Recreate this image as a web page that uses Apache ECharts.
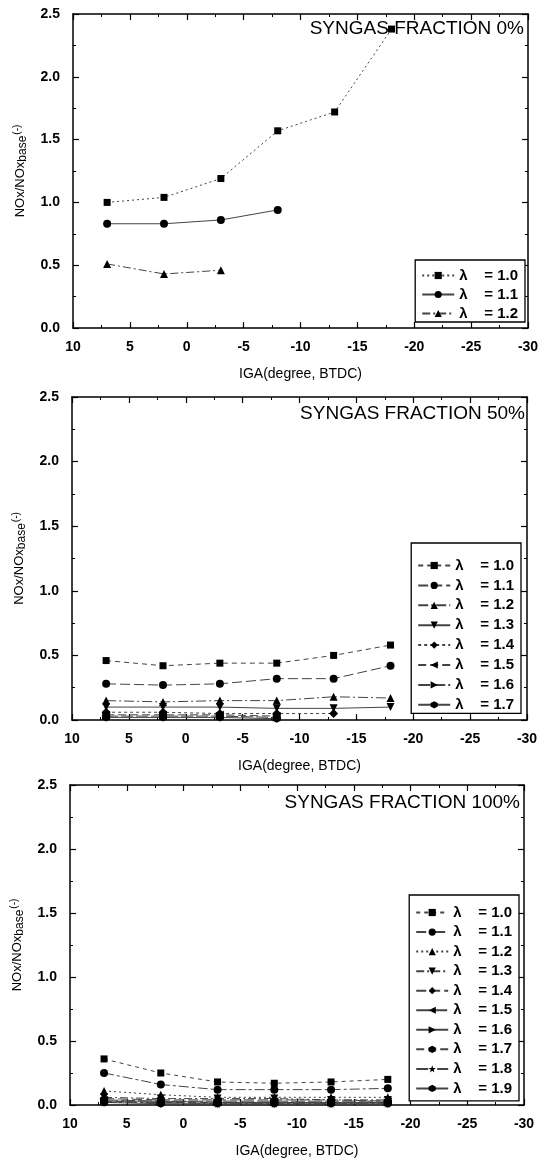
<!DOCTYPE html>
<html>
<head>
<meta charset="utf-8">
<script src="https://cdn.jsdelivr.net/npm/echarts@6/dist/echarts.min.js"></script>
<style>
html,body{margin:0;padding:0;background:#fff;}
#c{width:552px;height:1161px;}
</style>
</head>
<body>
<div id="c"></div>
<script>
// ---- data ----
const igaDeg = [7, 2, -3, -8, -13, -18];
const panelTitles = ['SYNGAS FRACTION 0%', 'SYNGAS FRACTION 50%', 'SYNGAS FRACTION 100%'];

const lambdas0 = ['1.0', '1.1', '1.2'];
const f0_l10 = [1.00, 1.04, 1.19, 1.57, 1.72, 2.38];
const f0_l11 = [0.83, 0.83, 0.86, 0.94, null, null];
const f0_l12 = [0.51, 0.43, 0.46, null, null, null];

const lambdas50 = ['1.0', '1.1', '1.2', '1.3', '1.4', '1.5', '1.6', '1.7'];
const f50_l10 = [0.46, 0.42, 0.44, 0.44, 0.50, 0.58];
const f50_l11 = [0.28, 0.27, 0.28, 0.32, 0.32, 0.42];
const f50_l12 = [0.15, 0.14, 0.15, 0.15, 0.18, 0.17];
const f50_l13 = [0.10, 0.10, 0.10, 0.09, 0.09, 0.10];
const f50_l14 = [0.06, 0.06, 0.05, 0.05, 0.05, null];
const f50_l15 = [0.04, 0.04, 0.04, 0.03, null, null];
const f50_l16 = [0.03, 0.03, 0.03, 0.02, null, null];
const f50_l17 = [0.02, 0.02, 0.02, 0.01, null, null];

const lambdas100 = ['1.0', '1.1', '1.2', '1.3', '1.4', '1.5', '1.6', '1.7', '1.8', '1.9'];
const f100_l10 = [0.36, 0.25, 0.18, 0.17, 0.18, 0.20];
const f100_l11 = [0.25, 0.16, 0.12, 0.12, 0.12, 0.13];
const f100_l12 = [0.11, 0.08, 0.06, 0.06, 0.06, 0.06];
const f100_l13 = [0.06, 0.05, 0.05, 0.05, 0.04, 0.04];
const f100_l14 = [0.05, 0.04, 0.04, 0.04, 0.04, 0.03];
const f100_l15 = [0.04, 0.03, 0.03, 0.03, 0.03, 0.03];
const f100_l16 = [0.03, 0.03, 0.02, 0.02, 0.02, 0.02];
const f100_l17 = [0.03, 0.02, 0.02, 0.02, 0.02, 0.02];
const f100_l18 = [0.02, 0.02, 0.01, 0.01, 0.01, 0.01];
const f100_l19 = [0.02, 0.01, 0.01, 0.01, 0.01, 0.01];

const panelLambdas = [lambdas0, lambdas50, lambdas100];
const panelValues = [
  [f0_l10, f0_l11, f0_l12],
  [f50_l10, f50_l11, f50_l12, f50_l13, f50_l14, f50_l15, f50_l16, f50_l17],
  [f100_l10, f100_l11, f100_l12, f100_l13, f100_l14, f100_l15, f100_l16, f100_l17, f100_l18, f100_l19]
];

// ---- styles ----
const FONT = 'Liberation Sans, Arial, sans-serif';
const HEX = 'path://M0,-10 L8.66,-5 L8.66,5 L0,10 L-8.66,5 L-8.66,-5 Z';
const STAR = 'path://M0,-10 L2.35,-3.24 L9.51,-3.09 L3.8,1.24 L5.88,8.09 L0,4 L-5.88,8.09 L-3.8,1.24 L-9.51,-3.09 L-2.35,-3.24 Z';
const markerByLambda = {
  '1.0': ['rect', 0, 7], '1.1': ['circle', 0, 8], '1.2': ['triangle', 0, 8],
  '1.3': ['triangle', 180, 8], '1.4': ['diamond', 0, 9], '1.5': ['triangle', 90, 8],
  '1.6': ['triangle', -90, 8], '1.7': [HEX, 0, 8], '1.8': [STAR, 0, 8], '1.9': [HEX, 0, 8]
};
const dashSets = [
  [[2, 3], 'solid', [8, 3, 2, 3]],
  [[5, 4], [10, 4], [10, 3, 2, 3], 'solid', [3, 3], [8, 4], [12, 3], 'solid'],
  [[4, 4], [10, 3, 3, 3], [2, 3], [8, 3, 2, 3], [10, 4], [14, 3], 'solid', [8, 4], [12, 3, 3, 3], 'solid']
];

const grids = [
  { left: 73, top: 14, width: 455, height: 314 },
  { left: 72, top: 397, width: 455, height: 323 },
  { left: 70, top: 785, width: 454, height: 320 }
];
const legendPos = [
  { right: 27, top: 260, padding: [8, 7, 1, 6], itemGap: 4 },
  { right: 31, top: 543, padding: [15, 7, 1, 6], itemGap: 4.9 },
  { right: 33, top: 895, padding: [10, 7, 5, 6], itemGap: 4.55 }
];
const titlePos = [{ right: 28, top: 19 }, { right: 27, top: 404 }, { right: 32, top: 793 }];

const xAxes = [], yAxes = [], series = [], legends = [], titles = [];
grids.forEach((g, i) => {
  const base = {
    gridIndex: i, type: 'value', min: -30, max: 10, interval: 5, inverse: true,
    axisLine: { onZero: false, lineStyle: { color: '#000', width: 1.5 } },
    axisTick: { inside: true, length: 6, lineStyle: { color: '#000', width: 1.2 } },
    minorTick: { show: true, splitNumber: 2, length: 3, lineStyle: { color: '#000', width: 1 } },
    splitLine: { show: false }
  };
  xAxes.push(Object.assign({}, base, {
    position: 'bottom',
    axisLabel: { margin: 12, color: '#000', fontSize: 14, fontWeight: 'bold', fontFamily: FONT },
    name: 'IGA(degree, BTDC)', nameLocation: 'middle', nameGap: 39,
    nameTextStyle: { color: '#000', fontSize: 14, fontFamily: FONT }
  }));
  xAxes.push(Object.assign({}, base, { position: 'top', axisLabel: { show: false } }));
  const ybase = {
    gridIndex: i, type: 'value', min: 0, max: 2.5, interval: 0.5,
    axisLine: { show: true, onZero: false, lineStyle: { color: '#000', width: 1.5 } },
    axisTick: { show: true, inside: true, length: 6, lineStyle: { color: '#000', width: 1.2 } },
    minorTick: { show: true, splitNumber: 2, length: 3, lineStyle: { color: '#000', width: 1 } },
    splitLine: { show: false }
  };
  yAxes.push(Object.assign({}, ybase, {
    position: 'left',
    axisLabel: { margin: 13, color: '#000', fontSize: 14, fontWeight: 'bold', fontFamily: FONT,
      formatter: v => v.toFixed(1) },
    name: '{a|NOx/NOx}{b|base}{c|(-)}', nameLocation: 'middle', nameGap: 40,
    nameTextStyle: {
      color: '#000', fontFamily: FONT,
      rich: {
        a: { fontSize: 13, fontFamily: FONT, color: '#000', padding: [0, 0, 4, 0] },
        b: { fontSize: 12, fontFamily: FONT, color: '#000' },
        c: { fontSize: 10, fontFamily: FONT, color: '#000', padding: [0, 0, 11, 1] }
      }
    }
  }));
  yAxes.push(Object.assign({}, ybase, { position: 'right', axisLabel: { show: false } }));

  const names = [];
  panelLambdas[i].forEach((lam, k) => {
    const nm = 'p' + i + '|λ    = ' + lam;
    names.push(nm);
    const mk = markerByLambda[lam];
    const pts = [];
    panelValues[i][k].forEach((v, j) => { if (v !== null) pts.push([igaDeg[j], v]); });
    series.push({
      name: nm, type: 'line', xAxisIndex: 2 * i, yAxisIndex: 2 * i,
      data: pts, symbol: mk[0], symbolRotate: mk[1], symbolSize: mk[2],
      showSymbol: true, animation: false,
      itemStyle: { color: '#000', borderWidth: 0 },
      lineStyle: { color: '#444', width: 1, type: dashSets[i][k] }
    });
  });
  const lp = legendPos[i];
  legends.push({
    data: names, orient: 'vertical', right: lp.right, top: lp.top,
    padding: lp.padding, itemGap: lp.itemGap, itemWidth: 32, itemHeight: 9,
    borderColor: '#000', borderWidth: 1.3, backgroundColor: '#fff', borderRadius: 0,
    formatter: n => n.split('|')[1],
    textStyle: { color: '#000', fontSize: 15, fontWeight: 'bold', fontFamily: FONT, lineHeight: 14 },
    selectedMode: false
  });
  titles.push({
    text: panelTitles[i], right: titlePos[i].right, top: titlePos[i].top, padding: 0,
    textStyle: { color: '#000', fontSize: 19, fontWeight: 'normal', fontFamily: FONT }
  });
});

const chart = echarts.init(document.getElementById('c'));
chart.setOption({
  backgroundColor: '#fff',
  animation: false,
  title: titles,
  grid: grids,
  xAxis: xAxes,
  yAxis: yAxes,
  legend: legends,
  series: series
});
</script>
</body>
</html>
